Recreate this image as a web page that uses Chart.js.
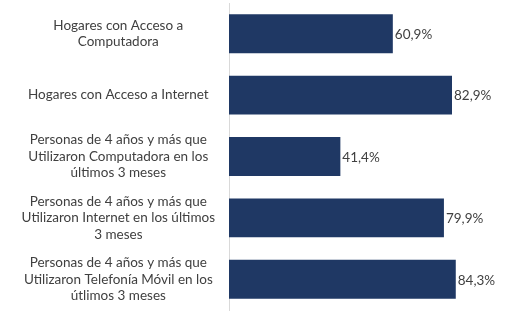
<!DOCTYPE html>
<html>
<head>
<meta charset="utf-8">
<script src="https://cdn.jsdelivr.net/npm/chart.js@4"></script>
<style>
  html, body { margin: 0; padding: 0; background: #ffffff; }
  #wrap { width: 520px; height: 312px; position: relative; }
</style>
</head>
<body>
<div id="wrap"><canvas id="c"></canvas></div>
<script>
const categories = [
  ["Hogares con Acceso a", "Computadora"],
  ["Hogares con Acceso a Internet"],
  ["Personas de 4 años y más que", "Utilizaron Computadora en los", "últimos 3 meses"],
  ["Personas de 4 años y más que", "Utilizaron Internet en los últimos", "3 meses"],
  ["Personas de 4 años y más que", "Utilizaron Telefonía Móvil en los", "útlimos 3 meses"]
];
const values = [60.9, 82.9, 41.4, 79.9, 84.3];
const axisMin = 0;
const axisMax = 100;

const fmt = v => v.toFixed(1).replace('.', ',') + '%';

const valueLabels = {
  id: 'valueLabels',
  afterDatasetsDraw(chart) {
    const ctx = chart.ctx;
    const meta = chart.getDatasetMeta(0);
    ctx.save();
    ctx.font = '13.5px Lato';
    ctx.fillStyle = '#404040';
    ctx.textAlign = 'left';
    ctx.textBaseline = 'middle';
    meta.data.forEach((bar, i) => {
      ctx.fillText(fmt(chart.data.datasets[0].data[i]), bar.x + 2, bar.y + 1);
    });
    ctx.restore();
  }
};

new Chart(document.getElementById('c'), {
  type: 'bar',
  data: {
    labels: categories,
    datasets: [{
      data: values,
      backgroundColor: '#1F3864',
      borderWidth: 0,
      barPercentage: 0.634,
      categoryPercentage: 1
    }]
  },
  options: {
    indexAxis: 'y',
    responsive: true,
    maintainAspectRatio: false,
    animation: false,
    layout: { padding: { top: 3, bottom: 2, left: 0, right: 22 } },
    plugins: { legend: { display: false }, tooltip: { enabled: false } },
    scales: {
      x: {
        display: false,
        min: axisMin,
        max: axisMax
      },
      y: {
        grid: { display: false, drawTicks: false },
        border: { display: true, color: '#d9d9d9', width: 1 },
        ticks: {
          color: '#404040',
          font: { family: 'Lato', size: 13.5, lineHeight: 1.22 },
          padding: 14,
          crossAlign: 'center'
        },
        afterFit(scale) {
          scale.width = 229;
          scale.paddingTop = 0;
          scale.paddingBottom = 0;
        }
      }
    }
  },
  plugins: [valueLabels]
});
</script>
</body>
</html>
